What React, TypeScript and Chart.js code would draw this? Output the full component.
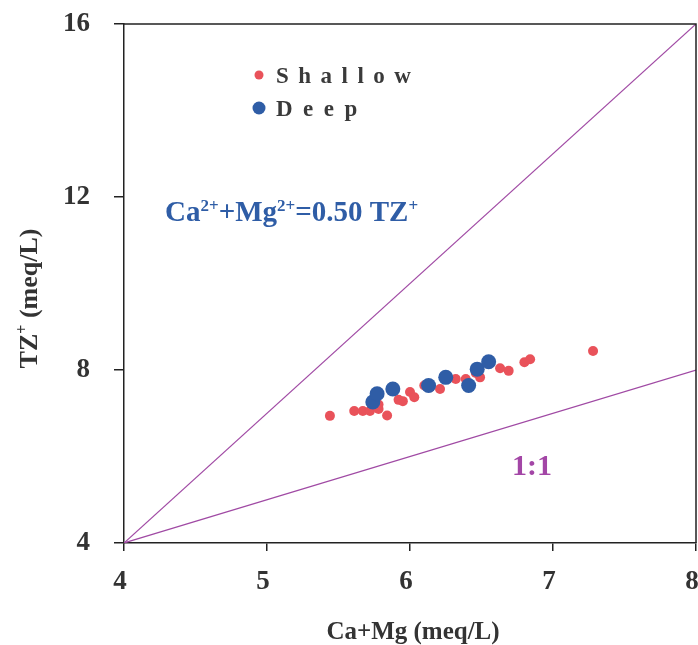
import React, { useEffect, useRef } from 'react';
import { Chart, registerables } from 'chart.js';

Chart.register(...registerables);

// Shallow groundwater samples: Ca+Mg vs TZ+ (meq/L)
const shallowX = [5.44, 5.61, 5.67, 5.72, 5.78, 5.84, 5.92, 6.0, 6.03, 6.1, 6.21, 6.32, 6.39, 6.49, 6.63, 6.69, 6.8, 6.84, 7.28, 5.78, 6.14, 6.46, 5.95];
const shallowY = [6.94, 7.05, 7.05, 7.05, 7.1, 6.95, 7.31, 7.49, 7.37, 7.64, 7.56, 7.79, 7.79, 7.83, 8.04, 7.98, 8.18, 8.25, 8.44, 7.2, 7.6, 7.93, 7.28];

// Deep groundwater samples
const deepX = [5.74, 5.77, 5.88, 6.13, 6.25, 6.41, 6.47, 6.55];
const deepY = [7.26, 7.45, 7.56, 7.64, 7.83, 7.64, 8.02, 8.19];

// Reference lines
const refX = [4, 8];
const steepLineY = [4, 16];
const oneToOneY = [4, 8];

// Axis ranges and ticks
const xMin = 4;
const xMax = 8;
const yMin = 4;
const yMax = 16;
const xStep = 1;
const yStep = 4;

const SERIF = '"Liberation Serif", "Times New Roman", serif';
const RED = '#e9525a';
const BLUE = '#2f5da6';
const PURPLE = '#a346a6';
const LINE_PURPLE = '#a04aa4';
const INK = '#333333';

const toPoints = (xs: number[], ys: number[]) => xs.map((x, i) => ({ x, y: ys[i] }));

function drawSpaced(ctx: CanvasRenderingContext2D, text: string, x: number, y: number, gap: number) {
  let cx = x;
  for (const ch of text) {
    ctx.fillText(ch, cx, y);
    cx += ctx.measureText(ch).width + gap;
  }
}

// Draws runs of text, some of them raised as superscripts
function drawRuns(
  ctx: CanvasRenderingContext2D,
  runs: { t: string; sup?: boolean }[],
  x: number,
  y: number,
  size: number,
  supSize: number,
  rise: number
) {
  let cx = x;
  for (const r of runs) {
    ctx.font = `bold ${r.sup ? supSize : size}px ${SERIF}`;
    ctx.fillText(r.t, cx, r.sup ? y - rise : y);
    cx += ctx.measureText(r.t).width;
  }
  return cx - x;
}

const decorations = {
  id: 'decorations',
  afterDraw(chart: Chart) {
    const { ctx, chartArea } = chart;
    const xs = chart.scales.x;
    const ys = chart.scales.y;
    ctx.save();

    // top and right frame
    ctx.strokeStyle = '#222';
    ctx.lineWidth = 1.5;
    ctx.beginPath();
    ctx.moveTo(chartArea.left, chartArea.top);
    ctx.lineTo(chartArea.right, chartArea.top);
    ctx.lineTo(chartArea.right, chartArea.bottom);
    ctx.stroke();

    ctx.textBaseline = 'alphabetic';
    ctx.textAlign = 'left';

    // legend
    ctx.fillStyle = RED;
    ctx.beginPath();
    ctx.arc(259, 75, 4.5, 0, Math.PI * 2);
    ctx.fill();
    ctx.fillStyle = BLUE;
    ctx.beginPath();
    ctx.arc(259, 108, 6.5, 0, Math.PI * 2);
    ctx.fill();
    ctx.fillStyle = '#3a3a3a';
    ctx.font = `bold 23px ${SERIF}`;
    drawSpaced(ctx, 'Shallow', 276, 83, 9.5);
    drawSpaced(ctx, 'Deep', 276, 116, 10.5);

    // equation label
    ctx.fillStyle = BLUE;
    drawRuns(
      ctx,
      [
        { t: 'Ca' },
        { t: '2+', sup: true },
        { t: '+Mg' },
        { t: '2+', sup: true },
        { t: '=0.50 TZ' },
        { t: '+', sup: true },
      ],
      165,
      221,
      29,
      17,
      10
    );

    // 1:1 label
    ctx.fillStyle = PURPLE;
    ctx.font = `bold 30px ${SERIF}`;
    ctx.fillText('1:1', 512, 475);

    // x axis title
    ctx.fillStyle = INK;
    ctx.font = `bold 25px ${SERIF}`;
    ctx.textAlign = 'center';
    ctx.fillText('Ca+Mg (meq/L)', (xs.left + xs.right) / 2 + 3, 639);

    // y axis title (rotated)
    ctx.save();
    ctx.translate(37, (ys.top + ys.bottom) / 2 + 15);
    ctx.rotate(-Math.PI / 2);
    ctx.textAlign = 'left';
    const runs = [{ t: 'TZ' }, { t: '+', sup: true }, { t: ' (meq/L)' }];
    let w = 0;
    for (const r of runs) {
      ctx.font = `bold ${r.sup ? 16 : 26}px ${SERIF}`;
      w += ctx.measureText(r.t).width;
    }
    drawRuns(ctx, runs, -w / 2, 0, 26, 16, 10);
    ctx.restore();

    ctx.restore();
  },
};

export default function App() {
  const canvasRef = useRef<HTMLCanvasElement | null>(null);

  useEffect(() => {
    document.body.style.margin = '0';
    const canvas = canvasRef.current;
    if (!canvas) return;

    const chart = new Chart(canvas, {
      type: 'scatter',
      data: {
        datasets: [
          {
            label: 'Deep',
            data: toPoints(deepX, deepY),
            backgroundColor: BLUE,
            borderColor: BLUE,
            pointRadius: 7.5,
            pointBorderWidth: 0,
            order: 0,
          },
          {
            label: 'Shallow',
            data: toPoints(shallowX, shallowY),
            backgroundColor: RED,
            borderColor: RED,
            pointRadius: 5,
            pointBorderWidth: 0,
            order: 1,
          },
          {
            label: 'Ca+Mg = 0.50 TZ+',
            data: toPoints(refX, steepLineY),
            showLine: true,
            borderColor: LINE_PURPLE,
            borderWidth: 1.2,
            pointRadius: 0,
            order: 2,
          },
          {
            label: '1:1',
            data: toPoints(refX, oneToOneY),
            showLine: true,
            borderColor: LINE_PURPLE,
            borderWidth: 1.2,
            pointRadius: 0,
            order: 2,
          },
        ],
      },
      options: {
        responsive: false,
        animation: false,
        layout: { autoPadding: false, padding: { top: 24, right: 2, left: 0, bottom: 0 } },
        plugins: {
          legend: { display: false },
          tooltip: { enabled: false },
        },
        scales: {
          x: {
            type: 'linear',
            min: xMin,
            max: xMax,
            ticks: {
              stepSize: xStep,
              padding: 15,
              labelOffset: -4,
              color: INK,
              font: { family: SERIF, size: 27, weight: 'bold' },
            },
            grid: { drawOnChartArea: false, drawTicks: true, tickLength: 8, color: '#222', lineWidth: 1.5 },
            border: { display: true, color: '#222', width: 1.5 },
            afterFit(scale: any) {
              scale.height = 102;
              scale.paddingLeft = 0;
              scale.paddingRight = 0;
            },
          },
          y: {
            type: 'linear',
            min: yMin,
            max: yMax,
            ticks: {
              stepSize: yStep,
              padding: 24,
              color: INK,
              font: { family: SERIF, size: 27, weight: 'bold' },
            },
            grid: { drawOnChartArea: false, drawTicks: true, tickLength: 10, color: '#222', lineWidth: 1.5 },
            border: { display: true, color: '#222', width: 1.5 },
            afterFit(scale: any) {
              scale.width = 124;
              scale.paddingTop = 0;
              scale.paddingBottom = 0;
            },
          },
        },
      },
      plugins: [decorations],
    });

    return () => chart.destroy();
  }, []);

  return <canvas ref={canvasRef} width={698} height={645} style={{ display: 'block' }} />;
}
